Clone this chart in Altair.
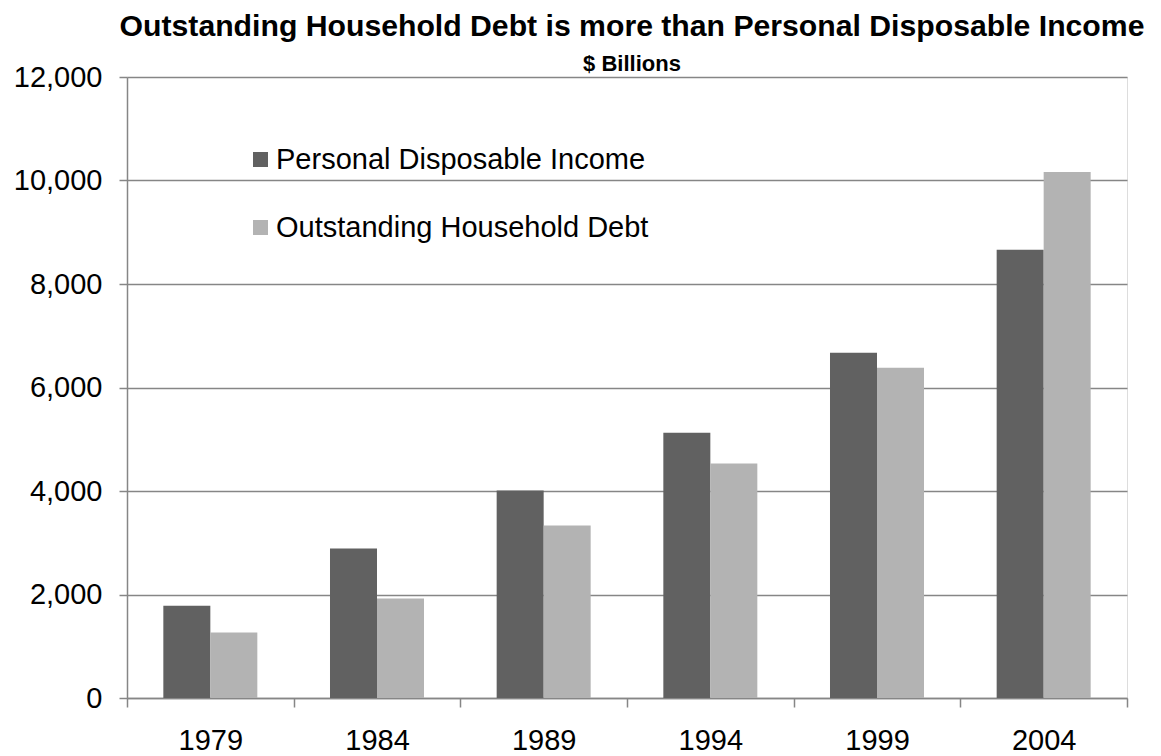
import altair as alt
import pandas as pd

years = ["1979", "1984", "1989", "1994", "1999", "2004"]
series = ["Personal Disposable Income", "Outstanding Household Debt"]
income = [1783, 2890, 4009, 5128, 6673, 8661]
debt = [1268, 1924, 3333, 4530, 6383, 10166]
colors = ["#616161", "#b3b3b3"]
y_ticks = [0, 2000, 4000, 6000, 8000, 10000, 12000]

rows = []
for i, yr in enumerate(years):
    rows.append({"year": yr, "series": series[0], "value": income[i]})
    rows.append({"year": yr, "series": series[1], "value": debt[i]})
df = pd.DataFrame(rows)

FONT = "Liberation Sans"

chart = alt.Chart(df).mark_bar().encode(
    x=alt.X("year:N", sort=years, title=None,
            scale=alt.Scale(paddingInner=0, paddingOuter=0),
            axis=alt.Axis(labelAngle=0, tickBand="extent", labelFontSize=29,
                          labelFont=FONT, labelColor="#000", tickSize=9,
                          tickColor="#868686", domainColor="#868686",
                          labelPadding=19, grid=False, domainWidth=1.5, tickWidth=1.5)),
    xOffset=alt.XOffset("series:N", sort=series,
                        scale=alt.Scale(paddingInner=0, paddingOuter=0.773)),
    y=alt.Y("value:Q", title=None,
            scale=alt.Scale(domain=[0, 12000], nice=False),
            axis=alt.Axis(values=y_ticks, format=",d", labelFontSize=29,
                          labelFont=FONT, labelColor="#000", tickSize=8,
                          tickColor="#868686", domainColor="#868686",
                          gridColor="#868686", gridWidth=1.5, labelPadding=17,
                          domainWidth=1.5, tickWidth=1.5)),
    color=alt.Color("series:N", sort=series,
                    scale=alt.Scale(domain=series, range=colors),
                    legend=alt.Legend(title=None, orient="none", legendX=119, legendY=68,
                                      symbolType="square", symbolSize=225,
                                      symbolStrokeWidth=0, labelFontSize=29,
                                      labelFont=FONT, labelColor="#000", labelLimit=0,
                                      rowPadding=38, labelOffset=1, padding=0)),
).properties(
    width=1000,
    height=621,
    title=alt.TitleParams(
        text="Outstanding Household Debt is more than Personal Disposable Income",
        subtitle="$ Billions",
        font=FONT, fontSize=30.2, fontWeight="bold", color="#000",
        subtitleFont=FONT, subtitleFontSize=22, subtitleFontWeight="bold",
        subtitleColor="#000", subtitlePadding=12,
        anchor="middle", dx=5, offset=-12, frame="group"),
    autosize=alt.AutoSizeParams(type="none"),
    padding={"left": 119, "top": 69, "right": 26, "bottom": 58},
).configure_view(stroke=None).configure(background="white")

chart.save("out.html", embed_options={"renderer": "svg", "actions": False})
